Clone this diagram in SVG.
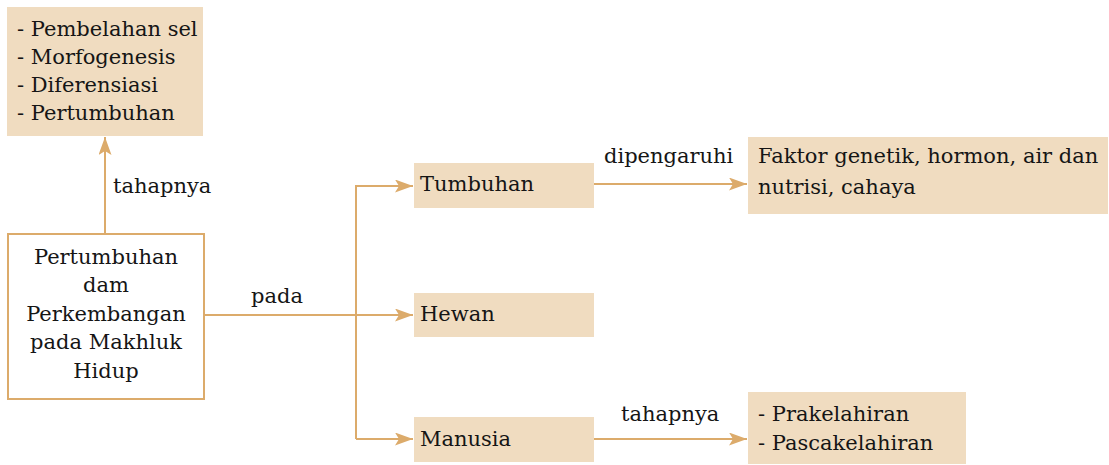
<svg xmlns="http://www.w3.org/2000/svg" width="1109" height="465" viewBox="0 0 1109 465">
<style>
.box{fill:#f0dcc0;}
.main{fill:#ffffff;stroke:#dcab6b;stroke-width:2;}
.t{font-family:"DejaVu Serif","Liberation Serif",serif;font-size:21px;fill:#151515;}
.c{text-anchor:middle;}
.ln{fill:none;stroke:#dcab6b;stroke-width:2;}
</style>
<defs>
<marker id="ah" markerUnits="userSpaceOnUse" markerWidth="20" markerHeight="14" refX="18" refY="6.5" orient="auto">
<path d="M0,0 L18,6.5 L0,13 L4,6.5 Z" fill="#dcab6b"/>
</marker>
</defs>
<rect width="1109" height="465" fill="#ffffff"/>
<g id="connectors">
<line class="ln" x1="105" y1="234" x2="105" y2="137" marker-end="url(#ah)"/>
<line class="ln" x1="204" y1="315" x2="413" y2="315" marker-end="url(#ah)"/>
<polyline class="ln" points="356,439 356,186 413,186" marker-end="url(#ah)"/>
<line class="ln" x1="356" y1="439" x2="413" y2="439" marker-end="url(#ah)"/>
<line class="ln" x1="594" y1="184" x2="747" y2="184" marker-end="url(#ah)"/>
<line class="ln" x1="594" y1="439" x2="747" y2="439" marker-end="url(#ah)"/>
<text class="t" x="113" y="193">tahapnya</text>
<text class="t c" x="277" y="303">pada</text>
<text class="t" x="604" y="163">dipengaruhi</text>
<text class="t" x="621" y="421">tahapnya</text>
</g>
<g id="tahapan">
<rect class="box" x="7" y="7" width="196" height="129"/>
<text class="t" x="17" y="36">- Pembelahan sel</text>
<text class="t" x="17" y="64">- Morfogenesis</text>
<text class="t" x="17" y="92">- Diferensiasi</text>
<text class="t" x="17" y="120">- Pertumbuhan</text>
</g>
<g id="utama">
<rect class="main" x="8" y="234" width="196" height="165"/>
<text class="t c" x="106" y="264">Pertumbuhan</text>
<text class="t c" x="106" y="292">dam</text>
<text class="t c" x="106" y="321">Perkembangan</text>
<text class="t c" x="106" y="349">pada Makhluk</text>
<text class="t c" x="106" y="378">Hidup</text>
</g>
<g id="tumbuhan">
<rect class="box" x="414" y="163" width="180" height="45"/>
<text class="t" x="420" y="191">Tumbuhan</text>
</g>
<g id="hewan">
<rect class="box" x="414" y="293" width="180" height="44"/>
<text class="t" x="420" y="321">Hewan</text>
</g>
<g id="manusia">
<rect class="box" x="414" y="417" width="180" height="45"/>
<text class="t" x="420" y="446">Manusia</text>
</g>
<g id="faktor">
<rect class="box" x="748" y="137" width="360" height="77"/>
<text class="t" x="758" y="163">Faktor genetik, hormon, air dan</text>
<text class="t" x="758" y="194">nutrisi, cahaya</text>
</g>
<g id="tahapan-manusia">
<rect class="box" x="748" y="392" width="218" height="72"/>
<text class="t" x="758" y="421">- Prakelahiran</text>
<text class="t" x="758" y="450">- Pascakelahiran</text>
</g>
</svg>
